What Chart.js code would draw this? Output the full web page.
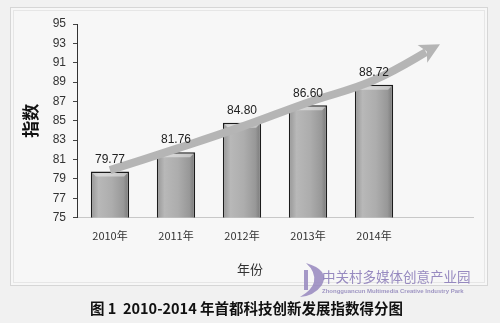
<!DOCTYPE html>
<html>
<head>
<meta charset="utf-8">
<script src="https://cdn.jsdelivr.net/npm/chart.js@4.4.0/dist/chart.umd.min.js"></script>
<style>
  html, body { margin: 0; padding: 0; background: #f1f1f1; }
  #wrap { width: 500px; height: 323px; }
</style>
</head>
<body>
<div id="wrap"><canvas id="myChart" width="500" height="323"></canvas></div>
<script>
// index values per year, the last slot stays empty for the arrow
const years = ["2010年", "2011年", "2012年", "2013年", "2014年", ""];
const indexValues = [79.77, 81.76, 84.80, 86.60, 88.72, null];
// rising trend arrow drawn over the bars
const trendValues = [79.9, 82.1, 84.4, 86.9, 89.2, 92.9];
const yTicks = { min: 75, max: 95, step: 2 };

const cjk = "'Noto Sans CJK SC', 'Liberation Sans', sans-serif";

const barFill = (c) => {
  const bar = c.chart.getDatasetMeta(c.datasetIndex).data[c.dataIndex];
  if (!bar || bar.x == null || isNaN(bar.x)) return "#a8a8a8";
  const w = bar.width || 38;
  const g = c.chart.ctx.createLinearGradient(bar.x - w / 2, 0, bar.x + w / 2, 0);
  g.addColorStop(0, "#969696");
  g.addColorStop(0.2, "#b8b8b8");
  g.addColorStop(0.55, "#adadad");
  g.addColorStop(0.85, "#989898");
  g.addColorStop(1, "#767676");
  return g;
};

// frame, axis title, watermark
const backdrop = {
  id: "backdrop",
  beforeDraw(chart) {
    const ctx = chart.ctx;
    ctx.save();
    ctx.fillStyle = "#f1f1f1";
    ctx.fillRect(0, 0, chart.width, chart.height);
    ctx.fillStyle = "#f7f7f7";
    ctx.fillRect(10, 7, 477, 278);
    ctx.strokeStyle = "#d6d6d6";
    ctx.lineWidth = 1;
    ctx.strokeRect(10.5, 7.5, 477, 278);
    ctx.strokeStyle = "#e6e6e6";
    ctx.strokeRect(13.5, 10.5, 471, 272);
    ctx.restore();
  },
  afterDraw(chart) {
    const ctx = chart.ctx;
    ctx.save();
    ctx.font = "13px " + cjk;
    ctx.fillStyle = "#333";
    ctx.textAlign = "center";
    ctx.textBaseline = "middle";
    ctx.fillText("年份", 250, 269);
    // park logo
    ctx.textAlign = "left";
    ctx.fillStyle = "rgba(150,135,190,0.85)";
    ctx.beginPath();
    ctx.moveTo(306, 263);
    ctx.quadraticCurveTo(330, 270, 322, 285);
    ctx.quadraticCurveTo(314, 296, 300, 297);
    ctx.quadraticCurveTo(312, 290, 314, 282);
    ctx.quadraticCurveTo(316, 272, 306, 263);
    ctx.fill();
    ctx.fillRect(304, 270, 4, 20);
    ctx.font = "13.5px " + cjk;
    ctx.fillStyle = "rgba(140,125,185,0.9)";
    ctx.fillText("中关村多媒体创意产业园", 322, 277);
    ctx.font = "bold 6px 'Liberation Sans', sans-serif";
    ctx.fillStyle = "rgba(150,140,190,0.9)";
    ctx.fillText("Zhongguancun Multimedia Creative Industry Park", 322, 291);
    ctx.restore();
  }
};

// top bevel on each bar, value labels above everything
const barDecor = {
  id: "barDecor",
  afterDatasetDraw(chart, args) {
    if (args.index !== 0) return;
    const ctx = chart.ctx;
    ctx.save();
    args.meta.data.forEach((bar, i) => {
      if (indexValues[i] == null) return;
      const w = bar.width;
      ctx.fillStyle = "rgba(255,255,255,0.45)";
      ctx.beginPath();
      ctx.moveTo(bar.x - w / 2 + 1.5, bar.y + 1.5);
      ctx.lineTo(bar.x + w / 2 - 1.5, bar.y + 1.5);
      ctx.lineTo(bar.x + w / 2 - 5, bar.y + 5);
      ctx.lineTo(bar.x - w / 2 + 5, bar.y + 5);
      ctx.closePath();
      ctx.fill();
    });
    ctx.restore();
  },
  afterDatasetsDraw(chart) {
    const ctx = chart.ctx;
    ctx.save();
    ctx.fillStyle = "#222";
    ctx.font = "12px 'Liberation Sans', sans-serif";
    ctx.textAlign = "center";
    ctx.textBaseline = "middle";
    chart.getDatasetMeta(0).data.forEach((bar, i) => {
      if (indexValues[i] == null) return;
      ctx.fillText(indexValues[i].toFixed(2), bar.x, bar.y - 12);
    });
    ctx.restore();
  }
};

// trend line shaft stops at the head base, then the head is filled
const arrowHead = {
  id: "arrowHead",
  headLen: 20,
  beforeDatasetDraw(chart, args) {
    if (args.index !== 1) return;
    const pts = args.meta.data;
    const tip = pts[pts.length - 1], prev = pts[pts.length - 2];
    let dx = tip.x - prev.x, dy = tip.y - prev.y;
    const len = Math.hypot(dx, dy);
    dx /= len; dy /= len;
    this._dir = { dx, dy };
    const bx = tip.x - dx * (this.headLen - 4), by = tip.y - dy * (this.headLen - 4);
    const ctx = chart.ctx;
    ctx.save();
    // keep only the half plane behind the head base
    const nx = -dy, ny = dx, far = 2000;
    ctx.beginPath();
    ctx.moveTo(bx + nx * far, by + ny * far);
    ctx.lineTo(bx - nx * far, by - ny * far);
    ctx.lineTo(bx - nx * far - dx * far, by - ny * far - dy * far);
    ctx.lineTo(bx + nx * far - dx * far, by + ny * far - dy * far);
    ctx.closePath();
    ctx.clip();
  },
  afterDatasetDraw(chart, args) {
    if (args.index !== 1) return;
    const ctx = chart.ctx;
    ctx.restore();
    const pts = args.meta.data;
    const tip = pts[pts.length - 1];
    const { dx, dy } = this._dir;
    const nx = -dy, ny = dx, L = this.headLen, hw = 10;
    const bx = tip.x - dx * L, by = tip.y - dy * L;
    const nbx = tip.x - dx * (L - 5), nby = tip.y - dy * (L - 5);
    ctx.save();
    ctx.fillStyle = "#b5b5b5";
    ctx.beginPath();
    ctx.moveTo(tip.x, tip.y);
    ctx.lineTo(bx + nx * hw, by + ny * hw);
    ctx.lineTo(nbx, nby);
    ctx.lineTo(bx - nx * hw, by - ny * hw);
    ctx.closePath();
    ctx.fill();
    ctx.restore();
  }
};

const ctx = document.getElementById("myChart").getContext("2d");
const myChart = new Chart(ctx, {
  data: {
    labels: years,
    datasets: [
      {
        type: "bar",
        data: indexValues,
        backgroundColor: barFill,
        borderColor: "#1c1c1c",
        borderWidth: 1.5,
        borderSkipped: "bottom",
        barPercentage: 0.58,
        categoryPercentage: 1,
        order: 1
      },
      {
        type: "line",
        data: trendValues,
        borderColor: "#b5b5b5",
        borderWidth: 8,
        borderCapStyle: "butt",
        pointRadius: 0,
        tension: 0.4,
        order: 0
      }
    ]
  },
  options: {
    responsive: false,
    animation: false,
    layout: { padding: { left: 20, right: 27, top: 24, bottom: 0 } },
    plugins: {
      legend: { display: false },
      tooltip: { enabled: false },
      title: {
        display: true,
        position: "bottom",
        text: "图 1  2010-2014 年首都科技创新发展指数得分图",
        color: "#111",
        font: { family: cjk, size: 14.5, weight: "bold" },
        padding: { top: 8, bottom: 6 }
      }
    },
    scales: {
      x: {
        grid: { display: false, drawTicks: false },
        border: { display: true, color: "#c8c8c8", width: 1 },
        ticks: { color: "#333", font: { family: cjk, size: 11 }, padding: 12 },
        afterFit: (s) => { s.height = 74; }
      },
      y: {
        min: yTicks.min,
        max: yTicks.max,
        grid: { drawOnChartArea: false, tickLength: 4, color: "#444" },
        border: { display: true, color: "#333", width: 1 },
        ticks: {
          stepSize: yTicks.step,
          color: "#333",
          padding: 7,
          font: { family: "'Liberation Sans', sans-serif", size: 12 }
        },
        title: {
          display: true,
          text: "指数",
          color: "#111",
          font: { family: cjk, size: 17, weight: "bold" },
          padding: { top: 0, bottom: 6 }
        },
        afterFit: (s) => { s.width = 57; }
      }
    }
  },
  plugins: [backdrop, barDecor, arrowHead]
});
myChart.update();
</script>
</body>
</html>
